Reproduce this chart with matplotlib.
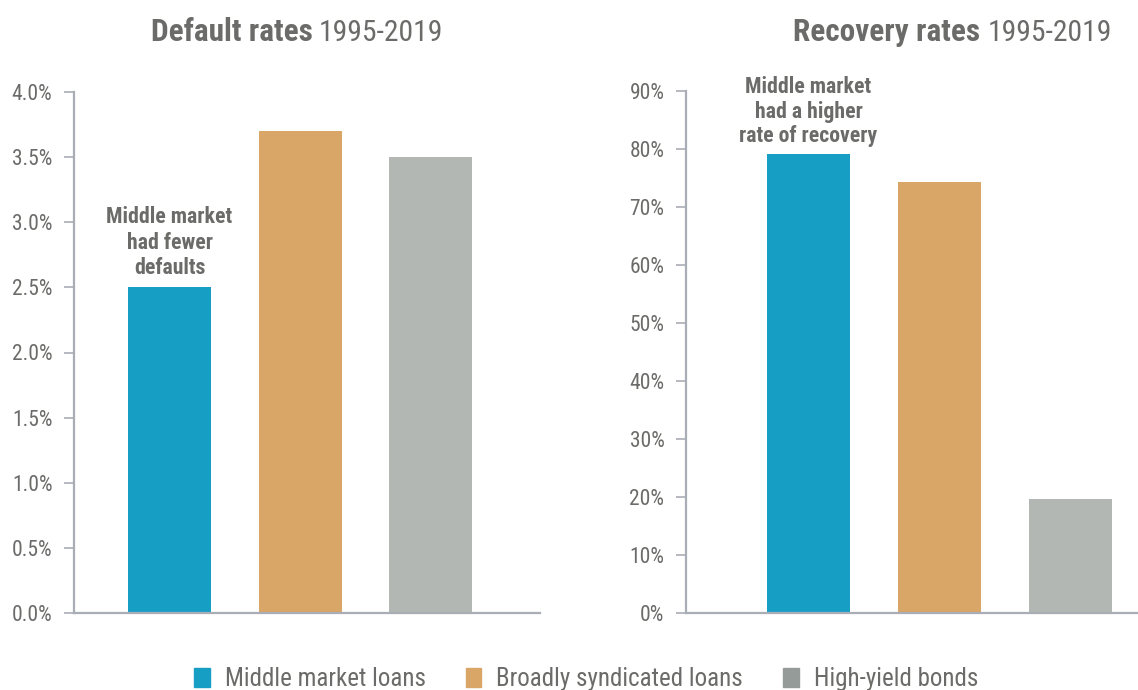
import matplotlib
matplotlib.use("Agg")
import matplotlib.pyplot as plt
from matplotlib import font_manager
from matplotlib.patches import Patch
from matplotlib.ticker import FuncFormatter

names = sorted({f.name for f in font_manager.fontManager.ttflist})
cand = ["Liberation Sans Narrow", "Roboto Condensed", "Open Sans Condensed", "DejaVu Sans Condensed", "Liberation Sans"]
FONT = next((c for c in cand if c in names), "DejaVu Sans")
plt.rcParams['font.family'] = [FONT, 'DejaVu Sans']

categories = ["Middle market loans", "Broadly syndicated loans", "High-yield bonds"]
default_rates = [2.5, 3.7, 3.5]
recovery_rates = [79.1, 74.3, 19.7]
default_ticks = [0.0, 0.5, 1.0, 1.5, 2.0, 2.5, 3.0, 3.5, 4.0]
recovery_ticks = [0, 10, 20, 30, 40, 50, 60, 70, 80, 90]

bar_colors = ["#169EC4", "#D9A668", "#B3B7B3"]
legend_colors = ["#169EC4", "#D9A668", "#959B98"]
text_color = "#6B6C69"
axis_color = "#A9ADB5"

W, H = 1138, 690
fig = plt.figure(figsize=(W / 100, H / 100), dpi=100)

def px(x0, y0, x1, y1):
    return [x0 / W, 1 - y1 / H, (x1 - x0) / W, (y1 - y0) / H]

axL = fig.add_axes(px(74, 92, 540, 613))
axR = fig.add_axes(px(686, 91, 1138, 613))

def style(ax):
    for s in ["top", "right"]:
        ax.spines[s].set_visible(False)
    for s in ["left", "bottom"]:
        ax.spines[s].set_color(axis_color)
        ax.spines[s].set_linewidth(1.6)
    ax.tick_params(axis="y", length=7.5, width=1.2, color=axis_color, pad=8,
                   labelsize=15.5, labelcolor=text_color)
    ax.tick_params(axis="x", length=0, labelbottom=False)

x = [0, 1, 2]
axL.bar(x, default_rates, width=0.636, color=bar_colors)
axL.set_xlim(-0.732, 2.839)
axL.set_ylim(0, 4.0)
axL.set_yticks(default_ticks)
axL.yaxis.set_major_formatter(FuncFormatter(lambda v, p: f"{v:.1f}%"))
style(axL)

axR.bar(x, recovery_rates, width=0.634, color=bar_colors)
axR.set_xlim(-0.935, 2.515)
axR.set_ylim(0, 90)
axR.set_yticks(recovery_ticks)
axR.yaxis.set_major_formatter(FuncFormatter(lambda v, p: f"{v:.0f}%"))
style(axR)

axL.annotate("Middle market\nhad fewer\ndefaults", xy=(0, default_rates[0]), xytext=(0, 6),
             textcoords="offset points", ha="center", va="bottom", fontsize=15.7,
             fontweight="bold", color=text_color, linespacing=1.2)
axR.annotate("Middle market\nhad a higher\nrate of recovery", xy=(0, recovery_rates[0]), xytext=(0, 5),
             textcoords="offset points", ha="center", va="bottom", fontsize=15.7,
             fontweight="bold", color=text_color, linespacing=1.15)

ty = 1 - 41 / H
fig.text(313 / W, ty, "Default rates", ha="right", va="baseline", fontsize=22.5,
         fontweight="bold", color=text_color)
fig.text(319 / W, ty, "1995-2019", ha="left", va="baseline", fontsize=21.3, color=text_color)
fig.text(980 / W, ty, "Recovery rates", ha="right", va="baseline", fontsize=22.5,
         fontweight="bold", color=text_color)
fig.text(988 / W, ty, "1995-2019", ha="left", va="baseline", fontsize=21.3, color=text_color)

handles = [Patch(color=c, label=l) for c, l in zip(legend_colors, categories)]
fig.legend(handles=handles, loc="center", bbox_to_anchor=(0.515, 1 - 679 / H), ncol=3,
           frameon=False, fontsize=18, handlelength=0.62, handleheight=0.8,
           columnspacing=1.6, handletextpad=0.6, labelcolor=text_color)

fig.savefig("out.png", dpi=100)
